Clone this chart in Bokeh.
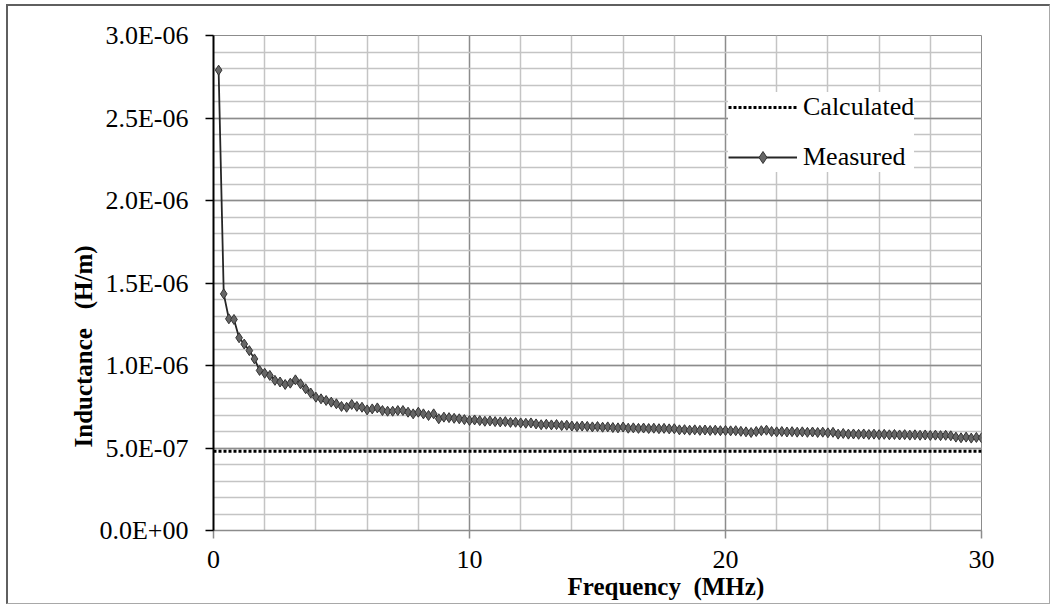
from bokeh.plotting import figure
from bokeh.models import (Range1d, SingleIntervalTicker, CustomJSTickFormatter,
                          Legend, LegendItem, Title)
from bokeh.embed import file_html
from bokeh.resources import INLINE

# ---------------- data ----------------
freq_mhz = [
    0.2, 0.4, 0.6, 0.8, 1.0, 1.2, 1.4, 1.6, 1.8, 2.0,
    2.2, 2.4, 2.6, 2.8, 3.0, 3.2, 3.4, 3.6, 3.8, 4.0,
    4.2, 4.4, 4.6, 4.8, 5.0, 5.2, 5.4, 5.6, 5.8, 6.0,
    6.2, 6.4, 6.6, 6.8, 7.0, 7.2, 7.4, 7.6, 7.8, 8.0,
    8.2, 8.4, 8.6, 8.8, 9.0, 9.2, 9.4, 9.6, 9.8, 10.0,
    10.2, 10.4, 10.6, 10.8, 11.0, 11.2, 11.4, 11.6, 11.8, 12.0,
    12.2, 12.4, 12.6, 12.8, 13.0, 13.2, 13.4, 13.6, 13.8, 14.0,
    14.2, 14.4, 14.6, 14.8, 15.0, 15.2, 15.4, 15.6, 15.8, 16.0,
    16.2, 16.4, 16.6, 16.8, 17.0, 17.2, 17.4, 17.6, 17.8, 18.0,
    18.2, 18.4, 18.6, 18.8, 19.0, 19.2, 19.4, 19.6, 19.8, 20.0,
    20.2, 20.4, 20.6, 20.8, 21.0, 21.2, 21.4, 21.6, 21.8, 22.0,
    22.2, 22.4, 22.6, 22.8, 23.0, 23.2, 23.4, 23.6, 23.8, 24.0,
    24.2, 24.4, 24.6, 24.8, 25.0, 25.2, 25.4, 25.6, 25.8, 26.0,
    26.2, 26.4, 26.6, 26.8, 27.0, 27.2, 27.4, 27.6, 27.8, 28.0,
    28.2, 28.4, 28.6, 28.8, 29.0, 29.2, 29.4, 29.6, 29.8, 30.0,
]

# measured inductance, in microhenry per metre
measured_uh_per_m = [
    2.790, 1.434, 1.283, 1.279, 1.168, 1.130, 1.090, 1.040, 0.970, 0.953,
    0.940, 0.910, 0.900, 0.885, 0.893, 0.913, 0.889, 0.859, 0.833, 0.808,
    0.798, 0.788, 0.778, 0.768, 0.752, 0.747, 0.764, 0.752, 0.747, 0.731,
    0.737, 0.743, 0.727, 0.723, 0.723, 0.727, 0.727, 0.717, 0.707, 0.717,
    0.707, 0.697, 0.707, 0.677, 0.687, 0.684, 0.680, 0.677, 0.672, 0.667,
    0.670, 0.666, 0.662, 0.664, 0.660, 0.658, 0.660, 0.655, 0.656, 0.652,
    0.650, 0.652, 0.646, 0.641, 0.644, 0.640, 0.642, 0.636, 0.638, 0.633,
    0.630, 0.633, 0.631, 0.628, 0.630, 0.626, 0.628, 0.624, 0.622, 0.627,
    0.620, 0.622, 0.619, 0.621, 0.618, 0.620, 0.617, 0.619, 0.616, 0.617,
    0.610, 0.611, 0.608, 0.610, 0.607, 0.609, 0.606, 0.608, 0.605, 0.606,
    0.604, 0.605, 0.601, 0.598, 0.594, 0.600, 0.605, 0.608, 0.600, 0.598,
    0.600, 0.597, 0.599, 0.596, 0.598, 0.595, 0.597, 0.594, 0.596, 0.592,
    0.595, 0.584, 0.588, 0.584, 0.585, 0.583, 0.585, 0.582, 0.584, 0.581,
    0.583, 0.580, 0.582, 0.579, 0.581, 0.578, 0.580, 0.577, 0.579, 0.576,
    0.578, 0.575, 0.577, 0.574, 0.566, 0.562, 0.566, 0.560, 0.564, 0.562,
]
measured_h_per_m = [v * 1e-6 for v in measured_uh_per_m]

calc_freq_mhz = [0.0, 30.0]
calc_h_per_m = [4.8e-7, 4.8e-7]

x_title = "Frequency \u00a0(MHz)"
y_title = "Inductance \u00a0\u00a0(H/m)"
legend_labels = ["Calculated", "Measured"]

FONT = "Liberation Serif"

# ---------------- figure ----------------
p = figure(frame_width=768, frame_height=495,
           x_range=Range1d(0, 30), y_range=Range1d(0, 3e-6),
           output_backend="svg", toolbar_location=None,
           min_border_left=205, min_border_right=68,
           min_border_top=29, min_border_bottom=73,
           background_fill_color="white", border_fill_color="white")
p.styles = {"margin-left": "6px", "margin-top": "4px",
            "border-left": "2px solid #5f5f5f", "border-top": "2px solid #5f5f5f",
            "border-right": "1px solid #a8a8a8", "border-bottom": "1px solid #a8a8a8"}
p.outline_line_color = "#8c8c8c"
p.outline_line_width = 1

xt = SingleIntervalTicker(interval=10, num_minor_ticks=5)
yt = SingleIntervalTicker(interval=5e-7, num_minor_ticks=5)
p.xaxis.ticker = xt
p.yaxis.ticker = yt
p.xgrid.ticker = xt
p.ygrid.ticker = yt

for g in (p.xgrid, p.ygrid):
    g.grid_line_color = "#8c8c8c"
    g.grid_line_width = 1.3
    g.minor_grid_line_color = "#c4c4c4"
    g.minor_grid_line_width = 1.5

p.yaxis.formatter = CustomJSTickFormatter(code="""
const parts = tick.toExponential(1).split('e');
let e = parseInt(parts[1]);
const sign = e < 0 ? '-' : '+';
e = Math.abs(e);
return parts[0] + 'E' + sign + (e < 10 ? '0' : '') + e;
""")

for ax in (p.xaxis, p.yaxis):
    ax.major_label_text_font = FONT
    ax.major_label_text_font_size = "26px"
    ax.major_label_text_color = "black"
    ax.minor_tick_line_color = None
    ax.major_tick_in = 0
    ax.major_tick_out = 8

p.yaxis.axis_line_color = "black"
p.yaxis.axis_line_width = 2
p.yaxis.major_tick_line_color = "black"
p.yaxis.major_tick_line_width = 1.5
p.yaxis.major_label_standoff = 17

p.xaxis.axis_line_color = "#8c8c8c"
p.xaxis.axis_line_width = 1.5
p.xaxis.major_tick_line_color = "#8c8c8c"
p.xaxis.major_tick_line_width = 1.5
p.xaxis.major_label_standoff = 12

# ---------------- glyphs ----------------
calc_r = p.line(calc_freq_mhz, calc_h_per_m, line_color="black",
                line_width=3, line_dash="3 2")
meas_line = p.line(freq_mhz, measured_h_per_m, line_color="#262626", line_width=1.8)
meas_pts = p.scatter(freq_mhz, measured_h_per_m, marker="diamond", size=10,
                     fill_color="#666666", line_color="#333333", line_width=1)

legend = Legend(items=[LegendItem(label=legend_labels[0], renderers=[calc_r]),
                       LegendItem(label=legend_labels[1], renderers=[meas_line, meas_pts])],
                location=(515, 358), orientation="vertical",
                glyph_width=69, glyph_height=30, label_height=30,
                label_standoff=6, spacing=20, padding=15,
                label_text_font=FONT, label_text_font_size="26px",
                label_text_color="black",
                background_fill_color="white", background_fill_alpha=1.0,
                border_line_color=None)
p.add_layout(legend)

p.add_layout(Title(text=x_title, align="left", offset=354, standoff=0,
                   text_font=FONT, text_font_size="25px", text_font_style="bold",
                   text_color="black"), "below")
p.add_layout(Title(text=y_title, align="left", offset=83, standoff=0,
                   text_font=FONT, text_font_size="25px", text_font_style="bold",
                   text_color="black"), "left")

open("out.html", "w").write(file_html(p, INLINE))
